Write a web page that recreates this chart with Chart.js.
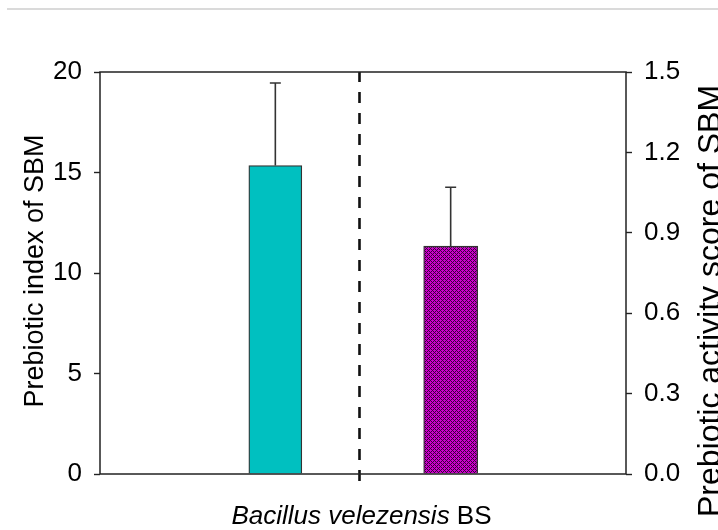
<!DOCTYPE html>
<html>
<head>
<meta charset="utf-8">
<script src="https://cdn.jsdelivr.net/npm/chart.js@4.4.0/dist/chart.umd.min.js"></script>
<style>
  body { margin: 0; background: #fff; }
  #wrap { position: relative; width: 718px; height: 530px; }
  #topRule { position: absolute; left: 7px; right: 0; top: 8px; height: 2px; background: #dadada; }
</style>
</head>
<body>
<div id="wrap">
  <div id="topRule"></div>
  <canvas id="chart" width="718" height="530"></canvas>
</div>
<script>
// --- Data ---
const strainName = "Bacillus velezensis";
const strainCode = "BS";
const barPositions = [1, 2];          // x positions on a 0..3 linear axis
const dividerAt = 1.48;
const prebioticIndex = [15.35];
const prebioticIndexErr = [4.1];
const activityScore = [0.85];
const activityScoreErr = [0.22];
const leftTitle = "Prebiotic index of SBM";
const rightTitle = "Prebiotic activity score of SBM";

const FONT = "'Liberation Sans', Arial, sans-serif";

// cross-hatch fill for the second bar
const makePattern = () => {
  const c = document.createElement("canvas");
  c.width = 4;
  c.height = 4;
  const g = c.getContext("2d");
  g.fillStyle = "#3c003c";
  g.fillRect(0, 0, 4, 4);
  g.fillStyle = "#cc00cc";
  [[0, 0], [1, 0], [3, 0], [0, 1], [0, 3], [2, 2], [1, 2], [3, 2], [2, 1], [2, 3]].forEach(([x, y]) =>
    g.fillRect(x, y, 1, 1)
  );
  return g.createPattern(c, "repeat");
};

const ctx = document.getElementById("chart").getContext("2d");

const extras = {
  id: "extras",
  afterDatasetsDraw(chart) {
    const { ctx, chartArea: a, scales } = chart;
    const x = scales.x;

    // error bars (upper only)
    const drawErr = (pos, val, err, scale) => {
      const px = x.getPixelForValue(pos);
      const y0 = scale.getPixelForValue(val);
      const y1 = scale.getPixelForValue(val + err);
      ctx.save();
      ctx.strokeStyle = "#333";
      ctx.lineWidth = 1.6;
      ctx.beginPath();
      ctx.moveTo(px, y0);
      ctx.lineTo(px, y1);
      ctx.moveTo(px - 5.5, y1);
      ctx.lineTo(px + 5.5, y1);
      ctx.stroke();
      ctx.restore();
    };
    prebioticIndex.forEach((v, i) => drawErr(barPositions[0], v, prebioticIndexErr[i], scales.y));
    activityScore.forEach((v, i) => drawErr(barPositions[1], v, activityScoreErr[i], scales.y1));

    // dashed divider
    const dx = x.getPixelForValue(dividerAt);
    ctx.save();
    ctx.strokeStyle = "#111";
    ctx.lineWidth = 2.6;
    ctx.setLineDash([11, 10]);
    ctx.beginPath();
    ctx.moveTo(dx, a.bottom + 7);
    ctx.lineTo(dx, a.top);
    ctx.stroke();
    ctx.restore();

    // frame
    ctx.save();
    ctx.strokeStyle = "#222";
    ctx.lineWidth = 1.5;
    ctx.strokeRect(a.left, a.top, a.right - a.left, a.bottom - a.top);
    ctx.restore();
  },
  afterDraw(chart) {
    const { ctx } = chart;
    ctx.save();
    ctx.fillStyle = "#000";
    ctx.textAlign = "center";
    ctx.textBaseline = "alphabetic";

    // axis titles, both reading bottom to top
    ctx.font = "27px " + FONT;
    ctx.save();
    ctx.translate(43, 271);
    ctx.rotate(-Math.PI / 2);
    ctx.fillText(leftTitle, 0, 0);
    ctx.restore();

    ctx.font = "32px " + FONT;
    ctx.save();
    ctx.translate(720, 301);
    ctx.rotate(-Math.PI / 2);
    ctx.fillText(rightTitle, 0, 0);
    ctx.restore();

    // category label: italic species + plain strain code
    ctx.textAlign = "left";
    const it = "italic 26px " + FONT;
    const rg = "26px " + FONT;
    ctx.font = it;
    const w1 = ctx.measureText(strainName + " ").width;
    ctx.font = rg;
    const w2 = ctx.measureText(strainCode).width;
    const cx = chart.scales.x.getPixelForValue(dividerAt) + 2;
    const sx = cx - (w1 + w2) / 2;
    ctx.font = it;
    ctx.fillText(strainName + " ", sx, 524);
    ctx.font = rg;
    ctx.fillText(strainCode, sx + w1, 524);
    ctx.restore();
  },
};

new Chart(ctx, {
  type: "bar",
  data: {
    datasets: [
      {
        label: "Prebiotic index",
        data: prebioticIndex.map((v) => ({ x: barPositions[0], y: v })),
        yAxisID: "y",
        backgroundColor: "#00c0c0",
        borderColor: "#333",
        borderWidth: 1.3,
        barThickness: 53,
        grouped: false,
      },
      {
        label: "Prebiotic activity score",
        data: activityScore.map((v) => ({ x: barPositions[1], y: v })),
        yAxisID: "y1",
        backgroundColor: makePattern(),
        borderColor: "#333",
        borderWidth: 1.3,
        barThickness: 54,
        grouped: false,
      },
    ],
  },
  options: {
    responsive: false,
    animation: false,
    layout: { padding: { top: 72, bottom: 56, left: 0, right: 0 } },
    plugins: { legend: { display: false }, tooltip: { enabled: false } },
    scales: {
      x: { type: "linear", min: 0, max: 3, offset: false, display: false },
      y: {
        position: "left",
        min: 0,
        max: 20,
        ticks: { stepSize: 5, color: "#000", font: { family: FONT, size: 26 }, padding: 12 },
        grid: { drawOnChartArea: false, tickLength: 6, tickColor: "#222", tickWidth: 1.4 },
        border: { display: false },
        afterFit: (s) => { s.width = 100; },
      },
      y1: {
        position: "right",
        min: 0,
        max: 1.5,
        ticks: {
          stepSize: 0.3,
          color: "#000",
          font: { family: FONT, size: 26 },
          padding: 12,
          callback: (v) => Number(v).toFixed(1),
        },
        grid: { drawOnChartArea: false, tickLength: 6, tickColor: "#222", tickWidth: 1.4 },
        border: { display: false },
        afterFit: (s) => { s.width = 92; },
      },
    },
  },
  plugins: [extras],
});
</script>
</body>
</html>
